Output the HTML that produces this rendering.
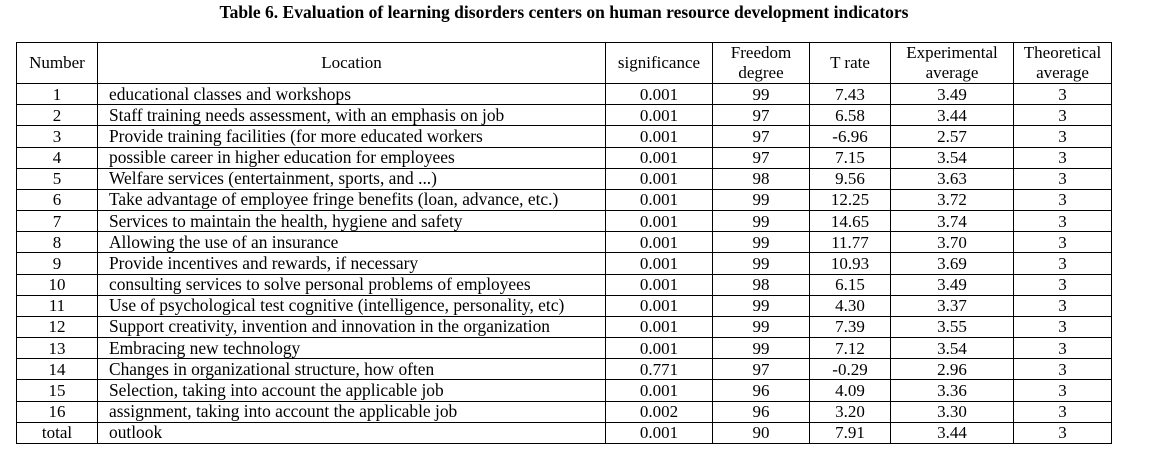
<!DOCTYPE html>
<html><head><meta charset="utf-8"><style>
body{margin:0;background:#fff;width:1152px;height:457px;overflow:hidden;font-family:"Liberation Serif",serif;color:#000}
.t{position:absolute;top:1px;left:-12px;width:1152px;text-align:center;font-weight:bold;font-size:17.5px;line-height:22px}
table{position:absolute;left:16px;top:42px;border-collapse:collapse;table-layout:fixed;font-size:17px}
td{border:1px solid #000;padding:0;text-align:center;height:20.18px;line-height:17px;white-space:nowrap;overflow:hidden}
tr.h td{height:40px;line-height:20px}
td.l{text-align:left;padding-left:11px;font-size:17.4px}
</style></head><body>
<div class="t">Table 6. Evaluation of learning disorders centers on human resource development indicators</div>
<table>
<colgroup><col style="width:81px"><col style="width:508px"><col style="width:107px"><col style="width:97px"><col style="width:81px"><col style="width:123px"><col style="width:98px"></colgroup>
<tr class="h"><td>Number</td><td>Location</td><td>significance</td><td>Freedom<br>degree</td><td>T rate</td><td>Experimental<br>average</td><td>Theoretical<br>average</td></tr>
<tr><td>1</td><td class="l">educational classes and workshops</td><td>0.001</td><td>99</td><td>7.43</td><td>3.49</td><td>3</td></tr>
<tr><td>2</td><td class="l">Staff training needs assessment, with an emphasis on job</td><td>0.001</td><td>97</td><td>6.58</td><td>3.44</td><td>3</td></tr>
<tr><td>3</td><td class="l">Provide training facilities (for more educated workers</td><td>0.001</td><td>97</td><td>-6.96</td><td>2.57</td><td>3</td></tr>
<tr><td>4</td><td class="l">possible career in higher education for employees</td><td>0.001</td><td>97</td><td>7.15</td><td>3.54</td><td>3</td></tr>
<tr><td>5</td><td class="l">Welfare services (entertainment, sports, and ...)</td><td>0.001</td><td>98</td><td>9.56</td><td>3.63</td><td>3</td></tr>
<tr><td>6</td><td class="l">Take advantage of employee fringe benefits (loan, advance, etc.)</td><td>0.001</td><td>99</td><td>12.25</td><td>3.72</td><td>3</td></tr>
<tr><td>7</td><td class="l">Services to maintain the health, hygiene and safety</td><td>0.001</td><td>99</td><td>14.65</td><td>3.74</td><td>3</td></tr>
<tr><td>8</td><td class="l">Allowing the use of an insurance</td><td>0.001</td><td>99</td><td>11.77</td><td>3.70</td><td>3</td></tr>
<tr><td>9</td><td class="l">Provide incentives and rewards, if necessary</td><td>0.001</td><td>99</td><td>10.93</td><td>3.69</td><td>3</td></tr>
<tr><td>10</td><td class="l">consulting services to solve personal problems of employees</td><td>0.001</td><td>98</td><td>6.15</td><td>3.49</td><td>3</td></tr>
<tr><td>11</td><td class="l">Use of psychological test cognitive (intelligence, personality, etc)</td><td>0.001</td><td>99</td><td>4.30</td><td>3.37</td><td>3</td></tr>
<tr><td>12</td><td class="l">Support creativity, invention and innovation in the organization</td><td>0.001</td><td>99</td><td>7.39</td><td>3.55</td><td>3</td></tr>
<tr><td>13</td><td class="l">Embracing new technology</td><td>0.001</td><td>99</td><td>7.12</td><td>3.54</td><td>3</td></tr>
<tr><td>14</td><td class="l">Changes in organizational structure, how often</td><td>0.771</td><td>97</td><td>-0.29</td><td>2.96</td><td>3</td></tr>
<tr><td>15</td><td class="l">Selection, taking into account the applicable job</td><td>0.001</td><td>96</td><td>4.09</td><td>3.36</td><td>3</td></tr>
<tr><td>16</td><td class="l">assignment, taking into account the applicable job</td><td>0.002</td><td>96</td><td>3.20</td><td>3.30</td><td>3</td></tr>
<tr><td>total</td><td class="l">outlook</td><td>0.001</td><td>90</td><td>7.91</td><td>3.44</td><td>3</td></tr>
</table>
</body></html>
